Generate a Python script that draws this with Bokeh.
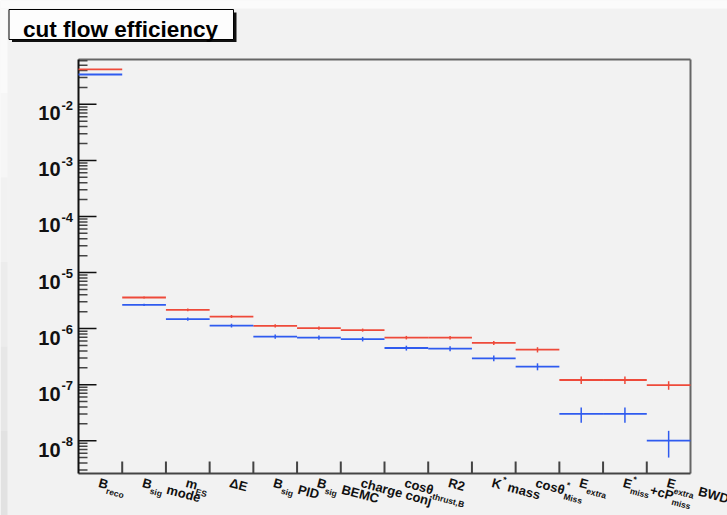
import math
from bokeh.plotting import figure
from bokeh.models import Range1d, ColumnDataSource
from bokeh.core.properties import value
from bokeh.embed import file_html
from bokeh.resources import INLINE

# ---------------- data ----------------
title_text = "cut flow efficiency"

# x tick labels: pieces (text, kind) kind: n=normal, sub=subscript, sup=superscript
cut_labels = [
    [("B", "n"), ("reco", "sub")],
    [("B", "n"), ("sig", "sub"), (" mode", "n")],
    [("m", "n"), ("ES", "sub")],
    [("ΔE", "n")],
    [("B", "n"), ("sig", "sub"), (" PID", "n")],
    [("B", "n"), ("sig", "sub"), (" BEMC", "n")],
    [("charge conj", "n")],
    [("cosθ", "n"), ("thrust,B", "sub")],
    [("R2", "n")],
    [("K", "n"), ("*", "sup"), (" mass", "n")],
    [("cosθ", "n"), ("*", "sup"), ("Miss", "sub")],
    [("E", "n"), ("extra", "sub")],
    [("E", "n"), ("*", "sup"), ("miss", "sub"), ("+cP", "n"), ("miss", "sub")],
    [("E", "n"), ("extra", "sub"), (" BWD", "n")],
]

red_eff = [0.042, 3.58e-6, 2.15e-6, 1.64e-6, 1.12e-6, 1.02e-6, 9.4e-7,
           6.9e-7, 6.9e-7, 5.55e-7, 4.2e-7, 1.21e-7, 1.21e-7, 9.8e-8]
red_err = [2e-4, 1.5e-7, 1.2e-7, 1.0e-7, 7e-8, 6.5e-8, 6e-8,
           5e-8, 5e-8, 4.5e-8, 4.5e-8, 1.8e-8, 1.8e-8, 1.7e-8]
blue_eff = [0.034, 2.65e-6, 1.48e-6, 1.13e-6, 7.2e-7, 6.9e-7, 6.5e-7,
            4.5e-7, 4.4e-7, 2.95e-7, 2.1e-7, 3.0e-8, 3.0e-8, 1.0e-8]
blue_err = [2e-4, 1.2e-7, 1.0e-7, 9e-8, 6e-8, 6e-8, 6e-8,
            4.5e-8, 4.5e-8, 3.5e-8, 3e-8, 9e-9, 9e-9, 5e-9]

decade_exponents = [-8, -7, -6, -5, -4, -3, -2]
y_lo, y_hi = 2.6e-9, 0.063     # visible value range of the histogram frame

# ---------------- layout ----------------
W, H = 727, 515
FL, FR, FT, FB = 78, 690, 59, 473      # histogram frame, in page pixels
N = len(red_eff)
BG = "#f2f2f2"
RED = "#ee4a3a"
BLUE = "#2f5bef"
FONT = "Liberation Sans"

LY0, LY1 = math.log10(y_lo), math.log10(y_hi)
XPP = N / (FR - FL)          # data units per pixel in x


def dx(px):
    return (px - FL) * XPP


def dy(py):
    return 10 ** (LY0 + (FB - py) / (FB - FT) * (LY1 - LY0))


# the plotting frame covers the whole canvas, so text outside the histogram box shows
p = figure(width=W, height=H, title=None,
           x_range=Range1d(dx(0), dx(W)), y_range=Range1d(dy(H), dy(0)),
           y_axis_type="log", x_axis_location=None, y_axis_location=None,
           output_backend="svg", toolbar_location=None,
           min_border_left=0, min_border_right=0,
           min_border_top=0, min_border_bottom=0)
p.background_fill_color = BG
p.border_fill_color = BG
p.outline_line_color = None
p.xgrid.grid_line_color = None
p.ygrid.grid_line_color = None

# canvas edge shading (window look): white top strip, left gradient strip
p.quad(left=[dx(0)], right=[dx(W)], top=[dy(0)], bottom=[dy(8)],
       fill_color="#fbfbfb", line_color=None)
shade = ["#fafafa", "#f6f6f6", "#f1f1f1", "#ececec", "#e7e7e7", "#e2e2e2"]
for j, c in enumerate(shade):
    p.quad(left=[dx(0)], right=[dx(7)], top=[dy(8 + j * (H - 8) / len(shade))],
           bottom=[dy(8 + (j + 1) * (H - 8) / len(shade))],
           fill_color=c, line_color=None)

# ---------------- frame, axes and ticks (ticks point inward) ----------------
p.segment(x0=[0, N], x1=[N, N], y0=[y_hi, y_lo], y1=[y_hi, y_hi],
          line_color="#666666", line_width=2)
major_y = [10.0 ** e for e in decade_exponents]
minor_y = [k * 10.0 ** e for e in range(-9, -1) for k in range(2, 10)
           if y_lo < k * 10.0 ** e < y_hi]
p.segment(x0=[0] * len(minor_y), x1=[9 * XPP] * len(minor_y), y0=minor_y, y1=minor_y,
          line_color="#444444", line_width=1.5)
p.segment(x0=[0] * len(major_y), x1=[18 * XPP] * len(major_y), y0=major_y, y1=major_y,
          line_color="#111111", line_width=1.5)
xt = list(range(1, N))
p.segment(x0=xt, x1=xt, y0=[y_lo] * len(xt), y1=[dy(FB - 12)] * len(xt),
          line_color="#444444", line_width=2)
p.segment(x0=[0], x1=[N], y0=[y_lo], y1=[y_lo], line_color="#444444", line_width=2)
p.segment(x0=[0], x1=[0], y0=[y_lo], y1=[y_hi], line_color="#111111", line_width=2)

# ---------------- data marks ----------------
for vals, errs, col in ((red_eff, red_err, RED), (blue_eff, blue_err, BLUE)):
    src = ColumnDataSource(dict(
        x0=[i for i in range(N)], x1=[i + 1 for i in range(N)],
        xc=[i + 0.5 for i in range(N)], y=vals,
        ylo=[v - e for v, e in zip(vals, errs)],
        yhi=[v + e for v, e in zip(vals, errs)]))
    p.segment(x0="x0", x1="x1", y0="y", y1="y", source=src,
              line_color=col, line_width=1.8)
    p.segment(x0="xc", x1="xc", y0="ylo", y1="yhi", source=src,
              line_color=col, line_width=1.5)

# approximate Helvetica-bold advance widths (per 1000 em)
CW = {" ": 278, "*": 389, "+": 584, ",": 278, "-": 333, "Δ": 722, "θ": 611}
CW.update({c: 722 for c in "ABCDHKNRU"})
CW.update({"E": 667, "F": 611, "G": 778, "I": 278, "J": 556, "L": 611, "M": 833,
           "O": 778, "P": 667, "Q": 778, "S": 667, "T": 611, "V": 667, "W": 944,
           "X": 667, "Y": 667, "Z": 611})
CW.update({"a": 556, "b": 611, "c": 556, "d": 611, "e": 556, "f": 333, "g": 611,
           "h": 611, "i": 278, "j": 278, "k": 556, "l": 278, "m": 889, "n": 611,
           "o": 611, "p": 611, "q": 611, "r": 389, "s": 556, "t": 333, "u": 611,
           "v": 556, "w": 778, "x": 556, "y": 556, "z": 500})
CW.update({d: 556 for d in "0123456789"})


def tw(text, size):
    return sum(CW.get(c, 600) for c in text) / 1000.0 * size


ANG = math.radians(15)
ca, sa = math.cos(ANG), math.sin(ANG)
XL_N, XL_S = 13, 8.5
SUB_DROP, SUP_RISE = 6, 6

lab = dict(x=[], y=[], text=[], size=[])


def put(sx, sy, text, fs):
    lab["x"].append(dx(sx))
    lab["y"].append(dy(sy))
    lab["text"].append(text)
    lab["size"].append(f"{fs}px")


for i, pieces in enumerate(cut_labels):
    bx = FL + (i + 0.5) / XPP - 1.5
    by = 482
    pos = 0.0
    k = 0
    while k < len(pieces):
        text, kind = pieces[k]
        lead = len(text) - len(text.lstrip(" "))
        if lead:
            pos += tw(" " * lead, XL_N)
            text = text.lstrip(" ")
        fs = XL_N if kind == "n" else XL_S
        off = 0 if kind == "n" else (SUB_DROP if kind == "sub" else -SUP_RISE)
        put(bx + pos * ca - off * sa, by + pos * sa + off * ca, text, fs)
        w = tw(text, fs)
        if kind == "sup" and k + 1 < len(pieces) and pieces[k + 1][1] == "sub":
            t2 = pieces[k + 1][0]
            put(bx + pos * ca - SUB_DROP * sa, by + pos * sa + SUB_DROP * ca, t2, XL_S)
            w = max(w, tw(t2, XL_S))
            k += 1
        pos += w
        k += 1

p.text(x="x", y="y", text="text", source=ColumnDataSource(lab), angle=-ANG,
       text_align="left", text_baseline="alphabetic", text_font=value(FONT),
       text_font_style="bold", text_font_size="size", text_color="#111111")

# y tick labels 10^e
ten = dict(x=[], y=[], text=[])
sup = dict(x=[], y=[], text=[])
for e in decade_exponents:
    py = FB - (e - LY0) / (LY1 - LY0) * (FB - FT)
    ten["x"].append(dx(60)); ten["y"].append(dy(py + 9)); ten["text"].append("10")
    sup["x"].append(dx(61)); sup["y"].append(dy(py + 1)); sup["text"].append(f"{e}")
p.text(x="x", y="y", text="text", source=ColumnDataSource(ten),
       text_align="right", text_baseline="alphabetic", text_font=value(FONT),
       text_font_style="bold", text_font_size="20px", text_color="#111111")
p.text(x="x", y="y", text="text", source=ColumnDataSource(sup),
       text_align="left", text_baseline="alphabetic", text_font=value(FONT),
       text_font_style="bold", text_font_size="13px", text_color="#111111")

# title box with shadow
p.quad(left=[dx(11.5)], right=[dx(236)], top=[dy(12)], bottom=[dy(41.5)],
       fill_color="#111111", line_color=None)
p.quad(left=[dx(8.5)], right=[dx(233)], top=[dy(9)], bottom=[dy(39)],
       fill_color="#fdfdfd", line_color="#000000", line_width=1)
p.text(x=[dx(22.5)], y=[dy(28.5)], text=[title_text], text_align="left",
       text_baseline="alphabetic", text_font=value(FONT), text_font_style="bold",
       text_font_size="22.5px", text_color="#000000")

open("out.html", "w").write(file_html(p, INLINE))
